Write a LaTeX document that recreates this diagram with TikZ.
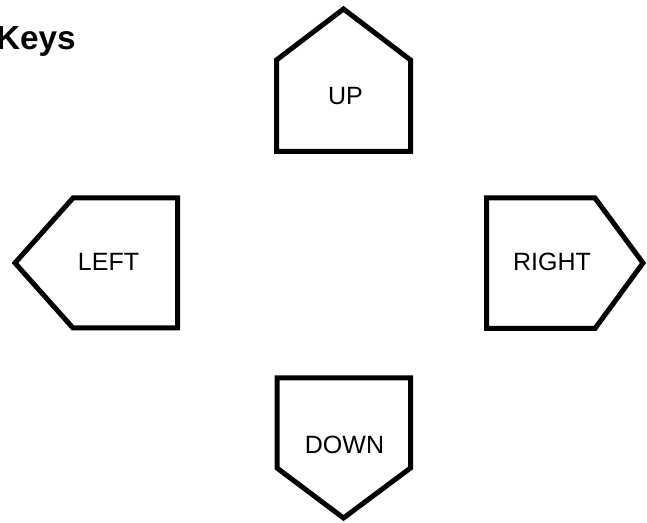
\documentclass[tikz,border=0pt]{standalone}
\usepackage{fontspec}
\setmainfont{Liberation Sans}
\begin{document}
\begin{tikzpicture}[x=0.75pt,y=-0.75pt,
  keyshape/.style={draw=black,line width=3.75pt,line join=miter,fill=white},
  keylabel/.style={inner sep=0pt,font=\fontsize{18.75pt}{22pt}\selectfont},
  titlelabel/.style={inner sep=0pt,font=\fontsize{25pt}{29pt}\selectfont\bfseries,anchor=base east}]
\useasboundingbox (0,0) rectangle (647,523);
% UP
\draw[keyshape] (343.5,9) -- (410.5,60) -- (410.5,151.5) -- (276.5,151.5) -- (276.5,60) -- cycle;
% DOWN
\draw[keyshape] (277,378) -- (410.5,378) -- (410.5,468) -- (343.5,518) -- (277,468) -- cycle;
% LEFT
\draw[keyshape] (15,263) -- (73,198) -- (177.5,198) -- (177.5,328) -- (73,328) -- cycle;
% RIGHT
\draw[keyshape] (486.5,198) -- (595,198) -- (643,263) -- (595,328.5) -- (486.5,328.5) -- cycle;
\node[keylabel] (up) at (345.5,96) {UP};
\node[keylabel] (down) at (344.5,445) {DOWN};
\node[keylabel] (left) at (108.5,262) {LEFT};
\node[keylabel] (right) at (552,262) {RIGHT};
\node[titlelabel] (title) at (76,49.5) {Keys};
\end{tikzpicture}
\end{document}
